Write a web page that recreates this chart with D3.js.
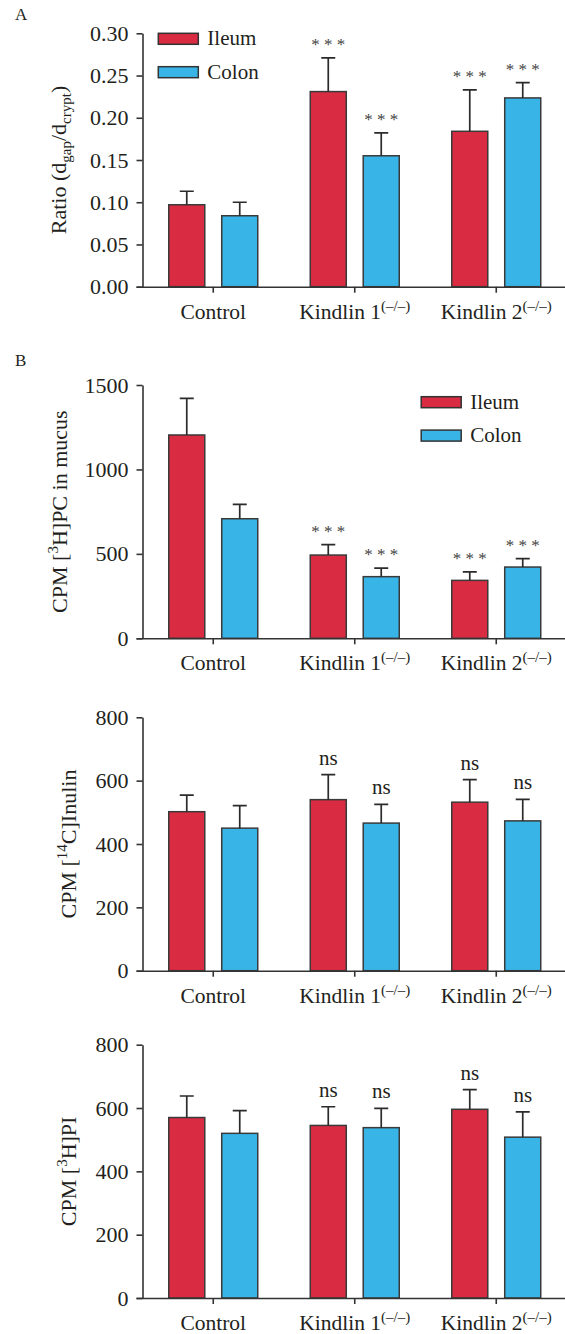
<!DOCTYPE html>
<html>
<head>
<meta charset="utf-8">
<script src="https://cdn.jsdelivr.net/npm/d3@7"></script>
<style>
  body { margin: 0; background: #fff; }
  .axis path, .axis line { stroke: #333; stroke-width: 1.6; }
</style>
</head>
<body>
<div id="chart"></div>
<script>
// groups and series
const categories = ['Control', 'Kindlin 1', 'Kindlin 2']
const series = ['Ileum', 'Colon']

// A: gap ratio
const ratioIleum = [0.097, 0.231, 0.184]
const ratioIleumErr = [0.016, 0.040, 0.049]
const ratioColon = [0.084, 0.155, 0.2235]
const ratioColonErr = [0.016, 0.027, 0.018]
const ratioSig = [['', ''], ['***', '***'], ['***', '***']]

// B: [3H]PC in mucus
const pcIleum = [1204, 493, 343]
const pcIleumErr = [217, 62, 50]
const pcColon = [708, 365, 422]
const pcColonErr = [85, 51, 50]
const pcSig = [['', ''], ['***', '***'], ['***', '***']]

// C: [14C]Inulin
const inulinIleum = [502, 540, 532]
const inulinIleumErr = [52, 79, 71]
const inulinColon = [450, 466, 473]
const inulinColonErr = [71, 59, 68]
const inulinSig = [['', ''], ['ns', 'ns'], ['ns', 'ns']]

// D: [3H]PI
const piIleum = [570, 545, 596]
const piIleumErr = [68, 59, 62]
const piColon = [520, 538, 508]
const piColonErr = [72, 61, 80]
const piSig = [['', ''], ['ns', 'ns'], ['ns', 'ns']]

const colors = { Ileum: '#d92b42', Colon: '#38b5e6' }
const ink = '#231f20'
const serif = "'Liberation Serif', 'DejaVu Serif', serif"

const W = 565, H = 1334
const svg = d3.select('#chart').append('svg')
  .attr('width', W)
  .attr('height', H)

const x0 = d3.scaleBand().domain(categories).range([142.5, 567]).paddingInner(0).paddingOuter(0)
const x1 = d3.scaleBand().domain(series).range([-44.5, 44.5]).paddingInner(0.32)

function rows(ileum, ileumErr, colon, colonErr, sig) {
  const out = []
  categories.forEach((c, i) => {
    out.push({ cat: c, s: 'Ileum', v: ileum[i], e: ileumErr[i], sig: sig[i][0] })
    out.push({ cat: c, s: 'Colon', v: colon[i], e: colonErr[i], sig: sig[i][1] })
  })
  return out
}

function panel(opt) {
  const y = d3.scaleLinear().domain([0, opt.max]).range([opt.y0, opt.yTop])
  const g = svg.append('g')
  const data = rows(...opt.data)
  const cx = d => x0(d.cat) + x0.bandwidth() / 2 + x1(d.s)

  // bars
  g.selectAll('.bar')
    .data(data)
    .enter().append('rect')
    .attr('x', cx)
    .attr('y', d => y(d.v))
    .attr('width', x1.bandwidth())
    .attr('height', d => y(0) - y(d.v))
    .attr('fill', d => colors[d.s])
    .attr('stroke', '#3a3a3a')
    .attr('stroke-width', 1.5)

  // error bars
  const mid = d => cx(d) + x1.bandwidth() / 2
  g.selectAll('.err')
    .data(data)
    .enter().append('path')
    .attr('d', d => `M${mid(d)},${y(d.v)}V${y(d.v + d.e)}M${mid(d) - 7},${y(d.v + d.e)}H${mid(d) + 7}`)
    .attr('stroke', '#2b2b2b')
    .attr('stroke-width', 1.7)
    .attr('fill', 'none')

  // significance marks
  g.selectAll('.sig')
    .data(data.filter(d => d.sig))
    .enter().append('text')
    .attr('x', mid)
    .attr('y', d => y(d.v + d.e) - (d.sig === 'ns' ? 10 : 8))
    .attr('text-anchor', 'middle')
    .style('font-family', serif)
    .style('font-size', d => d.sig === 'ns' ? '21px' : '17px')
    .style('fill', d => d.sig === 'ns' ? ink : '#444')
    .text(d => d.sig === 'ns' ? 'ns' : '* * *')

  // y axis
  const ya = g.append('g')
    .attr('class', 'axis')
    .attr('transform', `translate(142.5,0)`)
    .call(d3.axisLeft(y).tickValues(opt.ticks).tickFormat(opt.fmt).tickSize(6).tickSizeOuter(0).tickPadding(8))
  ya.selectAll('text')
    .style('font-family', serif)
    .style('font-size', '22px')
    .style('fill', ink)

  // x axis
  const xa = g.append('g')
    .attr('class', 'axis')
    .attr('transform', `translate(0,${opt.y0})`)
    .call(d3.axisBottom(x0).tickSize(6).tickSizeOuter(0).tickFormat(''))
  xa.select('.domain').attr('d', `M136.5,0.5H565`)

  const lab = g.selectAll('.cat')
    .data(categories)
    .enter().append('text')
    .attr('x', d => x0(d) + x0.bandwidth() / 2)
    .attr('y', opt.y0 + 32)
    .attr('text-anchor', 'middle')
    .style('font-family', serif)
    .style('font-size', '21.5px')
    .style('fill', ink)
  lab.append('tspan').text(d => d)
  lab.filter(d => d !== 'Control').append('tspan')
    .attr('dy', -8)
    .style('font-size', '15px')
    .text('(\u2013/\u2013)')

  // y label
  const yl = g.append('text')
    .attr('transform', `translate(${opt.labelX},${(opt.y0 + opt.yTop) / 2}) rotate(-90)`)
    .attr('text-anchor', 'middle')
    .style('font-family', serif)
    .style('font-size', '22px')
    .style('fill', ink)
  opt.label.forEach(p => {
    const t = yl.append('tspan').text(p.t)
    if (p.sub) t.attr('dy', 5).style('font-size', '15px')
    if (p.sup) t.attr('dy', -9).style('font-size', '15px')
    if (p.back) t.attr('dy', p.back)
  })

  // legend
  if (opt.legend) {
    const lg = g.selectAll('.legend')
      .data(series)
      .enter().append('g')
      .attr('transform', (d, i) => `translate(${opt.legend[0]},${opt.legend[1] + i * 33.4})`)
    lg.append('rect')
      .attr('width', 40)
      .attr('height', 11)
      .attr('fill', d => colors[d])
      .attr('stroke', '#333')
      .attr('stroke-width', 1.5)
    lg.append('text')
      .attr('x', 49)
      .attr('y', 12)
      .style('font-family', serif)
      .style('font-size', '21px')
      .style('fill', ink)
      .text(d => d)
  }

  if (opt.tag) {
    svg.append('text')
      .attr('x', 15)
      .attr('y', opt.tagY)
      .style('font-family', serif)
      .style('font-size', '17px')
      .style('fill', ink)
      .text(opt.tag)
  }
}

panel({
  data: [ratioIleum, ratioIleumErr, ratioColon, ratioColonErr, ratioSig],
  max: 0.30, yTop: 33.3, y0: 286.7,
  ticks: [0, 0.05, 0.10, 0.15, 0.20, 0.25, 0.30], fmt: d3.format('.2f'),
  labelX: 66,
  label: [{ t: 'Ratio (d' }, { t: 'gap', sub: true }, { t: '/d', back: -5 }, { t: 'crypt', sub: true }, { t: ')', back: -5 }],
  legend: [158.3, 33.3],
  tag: 'A', tagY: 20
})

panel({
  data: [pcIleum, pcIleumErr, pcColon, pcColonErr, pcSig],
  max: 1500, yTop: 385, y0: 638.3,
  ticks: [0, 500, 1000, 1500], fmt: d3.format('d'),
  labelX: 67,
  label: [{ t: 'CPM [' }, { t: '3', sup: true }, { t: 'H]PC in mucus', back: 9 }],
  legend: [421.2, 396.7],
  tag: 'B', tagY: 366
})

panel({
  data: [inulinIleum, inulinIleumErr, inulinColon, inulinColonErr, inulinSig],
  max: 800, yTop: 717.3, y0: 970.7,
  ticks: [0, 200, 400, 600, 800], fmt: d3.format('d'),
  labelX: 76,
  label: [{ t: 'CPM [' }, { t: '14', sup: true }, { t: 'C]Inulin', back: 9 }]
})

panel({
  data: [piIleum, piIleumErr, piColon, piColonErr, piSig],
  max: 800, yTop: 1044.7, y0: 1298,
  ticks: [0, 200, 400, 600, 800], fmt: d3.format('d'),
  labelX: 75.5,
  label: [{ t: 'CPM [' }, { t: '3', sup: true }, { t: 'H]PI', back: 9 }]
})
</script>
</body>
</html>
